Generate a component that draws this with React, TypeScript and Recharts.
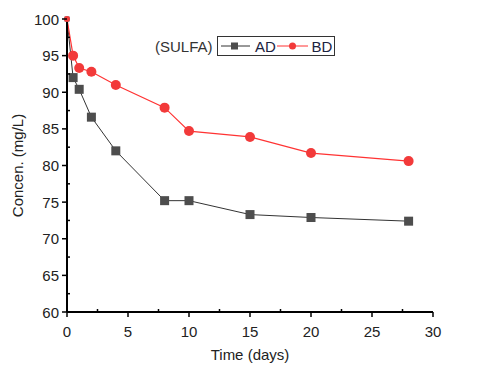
import React from 'react';
import { LineChart, Line, XAxis, YAxis } from 'recharts';

const days = [0, 0.5, 1, 2, 4, 8, 10, 15, 20, 28];
const adValues = [100, 92.0, 90.4, 86.6, 82.0, 75.2, 75.2, 73.3, 72.9, 72.4];
const bdValues = [100, 95.0, 93.3, 92.8, 91.0, 87.9, 84.7, 83.9, 81.7, 80.6];

const xTicks = [0, 2.5, 5, 7.5, 10, 12.5, 15, 17.5, 20, 22.5, 25, 27.5, 30];
const yTicks = [60, 62.5, 65, 67.5, 70, 72.5, 75, 77.5, 80, 82.5, 85, 87.5, 90, 92.5, 95, 97.5, 100];

const FONT = '"Liberation Sans", Arial, sans-serif';
const TEXT = '#222';

const data = days.map((d, i) => ({ day: d, AD: adValues[i], BD: bdValues[i] }));

const XTick = (props: any) => {
  const { x, y, payload } = props;
  const major = payload.value % 5 === 0;
  return (
    <g>
      <line x1={x} x2={x} y1={y} y2={major ? y + 5 : y - 3} stroke="#000" strokeWidth={1.5} />
      {major && (
        <text x={x} y={y + 25} textAnchor="middle" fontSize={15} fontFamily={FONT} fill={TEXT}>
          {payload.value}
        </text>
      )}
    </g>
  );
};

const YTick = (props: any) => {
  const { x, y, payload } = props;
  const major = payload.value % 5 === 0;
  return (
    <g>
      <line x1={x} x2={major ? x - 5 : x + 3} y1={y} y2={y} stroke="#000" strokeWidth={1.5} />
      {major && (
        <text x={x - 8} y={y + 5.5} textAnchor="end" fontSize={15} fontFamily={FONT} fill={TEXT}>
          {payload.value}
        </text>
      )}
    </g>
  );
};

const SquareDot = (p: any) => {
  const s = p.index === 0 ? 5 : 9;
  return <rect key={`ad-${p.index}`} x={p.cx - s / 2} y={p.cy - s / 2} width={s} height={s} fill="#4d4d4d" />;
};

const RoundDot = (p: any) => (
  <circle key={`bd-${p.index}`} cx={p.cx} cy={p.cy} r={p.index === 0 ? 3 : 5} fill="#f23a3a" />
);

function LegendBox() {
  return (
    <svg width={480} height={369} style={{ position: 'absolute', left: 0, top: 0, pointerEvents: 'none' }}>
      <text x={155} y={51.5} fontSize={15} fontFamily={FONT} fill="#333">(SULFA)</text>
      <rect x={217.5} y={36.5} width={117} height={19} fill="#fff" stroke="#333" strokeWidth={1} />
      <line x1={221} x2={250} y1={46} y2={46} stroke="#333" strokeWidth={1} />
      <rect x={231} y={42.5} width={7} height={7} fill="#4d4d4d" />
      <text x={255} y={51.5} fontSize={15} fontFamily={FONT} fill="#1b2340">AD</text>
      <line x1={277} x2={308} y1={46} y2={46} stroke="#ff3333" strokeWidth={1} />
      <circle cx={292.5} cy={46} r={3.5} fill="#f23a3a" />
      <text x={311.5} y={51.5} fontSize={15} fontFamily={FONT} fill="#1b2340">BD</text>
    </svg>
  );
}

export default function App() {
  return (
    <div style={{ position: 'absolute', left: 0, top: 0, width: 480, height: 369, background: '#fff' }}>
      <LineChart width={480} height={369} data={data} margin={{ top: 19, right: 47, bottom: 0, left: 0 }}>
        <XAxis
          dataKey="day"
          type="number"
          domain={[0, 30]}
          ticks={xTicks}
          interval={0}
          height={57}
          tickSize={0}
          tickMargin={0}
          tickLine={false}
          tick={<XTick />}
          axisLine={{ stroke: '#000', strokeWidth: 2 }}
          label={{ value: 'Time (days)', position: 'insideBottom', offset: 9, fontSize: 15, fontFamily: FONT, fill: TEXT }}
        />
        <XAxis
          xAxisId="top"
          orientation="top"
          type="number"
          domain={[0, 30]}
          height={0}
          tick={false}
          tickLine={false}
          axisLine={{ stroke: '#000', strokeWidth: 2 }}
        />
        <YAxis
          type="number"
          domain={[60, 100]}
          ticks={yTicks}
          interval={0}
          width={67}
          tickSize={0}
          tickMargin={0}
          tickLine={false}
          tick={<YTick />}
          axisLine={{ stroke: '#000', strokeWidth: 2 }}
          label={{
            value: 'Concen. (mg/L)',
            angle: -90,
            position: 'insideLeft',
            offset: 18,
            fontSize: 15,
            fontFamily: FONT,
            fill: TEXT,
            style: { textAnchor: 'middle' },
          }}
        />
        <YAxis
          yAxisId="right"
          orientation="right"
          type="number"
          domain={[60, 100]}
          width={0}
          tick={false}
          tickLine={false}
          axisLine={{ stroke: '#000', strokeWidth: 2 }}
        />
        <Line
          dataKey="AD"
          stroke="#333"
          strokeWidth={1}
          dot={SquareDot}
          activeDot={false}
          isAnimationActive={false}
        />
        <Line
          dataKey="BD"
          stroke="#ff3333"
          strokeWidth={1.2}
          dot={RoundDot}
          activeDot={false}
          isAnimationActive={false}
        />
      </LineChart>
      <LegendBox />
    </div>
  );
}
